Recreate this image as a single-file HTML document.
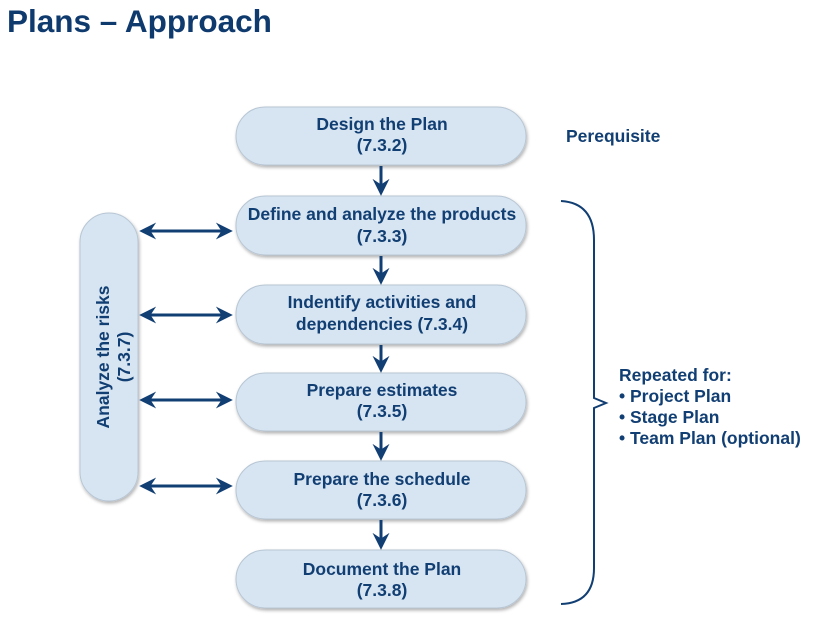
<!DOCTYPE html>
<html><head><meta charset="utf-8"><style>
body{margin:0;background:#fff;}
svg{display:block;font-family:"Liberation Sans",Arial,sans-serif;font-weight:bold;}
</style></head><body>
<svg width="829" height="617" viewBox="0 0 829 617" xmlns="http://www.w3.org/2000/svg">
<defs>
<filter id="sh" x="-10%" y="-20%" width="120%" height="140%"><feDropShadow dx="1" dy="2" stdDeviation="1.5" flood-color="#000" flood-opacity="0.3"/></filter>
<marker id="ah" viewBox="0 0 12 12" refX="10" refY="6" markerWidth="17" markerHeight="17" markerUnits="userSpaceOnUse" orient="auto-start-reverse"><path d="M0,0 L12,6 L0,12 L4,6 Z" fill="#123f73"/></marker>
</defs>
<text x="7" y="32" font-size="31.5" fill="#0f3a6e">Plans – Approach</text>
<g fill="#d7e5f2" stroke="#b8c6d4" stroke-width="1" filter="url(#sh)">
<rect x="236" y="107" width="290" height="58" rx="29"/>
<rect x="236" y="196" width="290" height="59" rx="29"/>
<rect x="236" y="285" width="290" height="59" rx="29"/>
<rect x="236" y="373" width="290" height="58" rx="29"/>
<rect x="236" y="461" width="290" height="58" rx="29"/>
<rect x="236" y="550" width="290" height="58" rx="29"/>
<rect x="80" y="213" width="58" height="288" rx="29"/>
</g>
<g fill="#123f73" font-size="17.5" text-anchor="middle">
<text x="382" y="130">Design the Plan</text><text x="382" y="151">(7.3.2)</text>
<text x="382" y="220">Define and analyze the products</text><text x="382" y="242">(7.3.3)</text>
<text x="382" y="308">Indentify activities and</text><text x="382" y="330">dependencies (7.3.4)</text>
<text x="382" y="396">Prepare estimates</text><text x="382" y="417">(7.3.5)</text>
<text x="382" y="485">Prepare the schedule</text><text x="382" y="506">(7.3.6)</text>
<text x="382" y="575">Document the Plan</text><text x="382" y="596">(7.3.8)</text>
<text transform="translate(109,357) rotate(-90)">Analyze the risks</text>
<text transform="translate(130,357) rotate(-90)">(7.3.7)</text>
</g>
<g fill="#123f73" font-size="17.5">
<text x="566" y="142">Perequisite</text>
<text x="619" y="381">Repeated for:</text>
<text x="619" y="402">• Project Plan</text>
<text x="619" y="423">• Stage Plan</text>
<text x="619" y="444">• Team Plan (optional)</text>
</g>
<g stroke="#123f73" stroke-width="3" fill="none">
<line x1="381" y1="166" x2="381" y2="193" marker-end="url(#ah)"/>
<line x1="381" y1="256" x2="381" y2="282" marker-end="url(#ah)"/>
<line x1="381" y1="345" x2="381" y2="370" marker-end="url(#ah)"/>
<line x1="381" y1="432" x2="381" y2="458" marker-end="url(#ah)"/>
<line x1="381" y1="520" x2="381" y2="547" marker-end="url(#ah)"/>
<line x1="142" y1="231" x2="230" y2="231" marker-start="url(#ah)" marker-end="url(#ah)"/>
<line x1="142" y1="315" x2="230" y2="315" marker-start="url(#ah)" marker-end="url(#ah)"/>
<line x1="142" y1="400" x2="230" y2="400" marker-start="url(#ah)" marker-end="url(#ah)"/>
<line x1="142" y1="486" x2="230" y2="486" marker-start="url(#ah)" marker-end="url(#ah)"/>
</g>
<path d="M561,201 Q594,203 594,240 L594,398 L606,403 L594,408 L594,568 Q594,603 561,604" stroke="#123f73" stroke-width="2" fill="none"/>
</svg>
</body></html>
